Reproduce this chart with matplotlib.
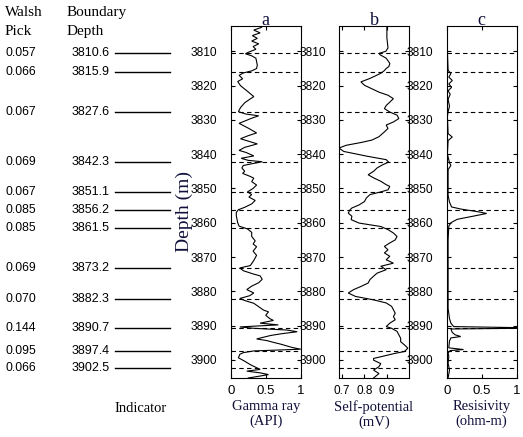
import matplotlib
matplotlib.use("Agg")
import matplotlib.pyplot as plt
import numpy as np

# ---------------- data ----------------
boundary_depths = [3810.6, 3815.9, 3827.6, 3842.3, 3851.1, 3856.2, 3861.5,
                   3873.2, 3882.3, 3890.7, 3897.4, 3902.5]
walsh_picks = ["0.057", "0.066", "0.067", "0.069", "0.067", "0.085", "0.085",
               "0.069", "0.070", "0.144", "0.095", "0.066"]
boundary_labels = ["3810.6", "3815.9", "3827.6", "3842.3", "3851.1", "3856.2",
                   "3861.5", "3873.2", "3882.3", "3890.7", "3897.4", "3902.5"]

gr_depth = [3803.0, 3803.8, 3804.6, 3805.4, 3806.2, 3807.0, 3807.8, 3808.6, 3809.4, 3810.2,
            3810.7, 3811.3, 3812.0, 3813.0, 3814.0, 3815.0, 3815.7, 3816.3, 3817.0, 3818.0,
            3818.8, 3820.0, 3821.0, 3822.0, 3823.2, 3824.0, 3825.0, 3826.4, 3827.6, 3828.3,
            3828.8, 3829.5, 3831.0, 3832.5, 3833.8, 3834.6, 3835.5, 3836.5, 3837.0, 3838.0,
            3838.9, 3839.5, 3840.5, 3841.2, 3841.8, 3842.2, 3842.8, 3843.3, 3844.0, 3845.0,
            3845.6, 3846.5, 3847.0, 3848.0, 3849.0, 3850.0, 3851.0, 3851.8, 3852.5, 3853.5,
            3854.5, 3855.5, 3856.2, 3857.0, 3858.0, 3859.0, 3860.0, 3861.0, 3861.8, 3862.8,
            3864.0, 3865.3, 3866.2, 3867.0, 3868.3, 3869.5, 3871.0, 3872.5, 3873.2, 3874.0,
            3875.0, 3875.5, 3876.5, 3877.5, 3878.5, 3879.5, 3880.5, 3881.3, 3882.1, 3882.7,
            3883.5, 3884.5, 3885.5, 3886.0, 3887.0, 3888.0, 3888.5, 3889.3, 3889.8, 3890.4,
            3890.8, 3891.3, 3891.8, 3892.4, 3892.9, 3893.4, 3893.9, 3894.4, 3894.9, 3895.4,
            3896.4, 3896.9, 3897.4, 3897.9, 3898.4, 3899.4, 3900.4, 3901.4, 3902.3, 3902.8,
            3903.3, 3903.8, 3904.3, 3904.8, 3905.3]
gr_value = [0.44, 0.33, 0.42, 0.31, 0.38, 0.30, 0.40, 0.32, 0.36, 0.26,
            0.21, 0.30, 0.36, 0.37, 0.38, 0.37, 0.30, 0.18, 0.12, 0.17,
            0.10, 0.14, 0.20, 0.26, 0.33, 0.27, 0.20, 0.14, 0.11, 0.22,
            0.40, 0.30, 0.12, 0.26, 0.37, 0.25, 0.14, 0.30, 0.38, 0.20,
            0.12, 0.22, 0.33, 0.15, 0.25, 0.45, 0.30, 0.18, 0.16, 0.20,
            0.17, 0.28, 0.33, 0.30, 0.37, 0.32, 0.24, 0.30, 0.26, 0.35,
            0.30, 0.20, 0.11, 0.08, 0.08, 0.09, 0.10, 0.12, 0.24, 0.30,
            0.30, 0.35, 0.32, 0.37, 0.32, 0.37, 0.33, 0.28, 0.13, 0.18,
            0.33, 0.42, 0.45, 0.40, 0.30, 0.23, 0.33, 0.27, 0.13, 0.20,
            0.33, 0.40, 0.47, 0.54, 0.50, 0.56, 0.61, 0.42, 0.68, 0.13,
            0.33, 0.80, 0.95, 0.72, 0.57, 0.47, 0.37, 0.52, 0.61, 0.71,
            0.88, 1.00, 0.33, 0.18, 0.13, 0.11, 0.20, 0.28, 0.37, 0.42,
            0.23, 0.42, 0.54, 0.40, 0.25]

sp_depth = [3803.0, 3806.0, 3809.0, 3810.0, 3810.6, 3811.0, 3812.0, 3813.5, 3814.4, 3815.0,
            3815.6, 3816.4, 3817.9, 3818.9, 3819.9, 3820.9, 3821.9, 3822.8, 3823.8, 3824.8,
            3825.8, 3826.7, 3827.7, 3828.6, 3829.6, 3830.6, 3831.5, 3832.5, 3833.5, 3834.9,
            3835.9, 3836.6, 3837.4, 3838.2, 3839.2, 3840.6, 3841.6, 3842.3, 3843.1, 3844.0,
            3845.0, 3846.0, 3846.9, 3847.9, 3848.9, 3849.4, 3850.4, 3851.0, 3851.8, 3852.8,
            3853.8, 3854.8, 3855.7, 3856.2, 3857.2, 3858.1, 3859.1, 3860.1, 3861.1, 3862.0,
            3863.0, 3864.0, 3865.0, 3865.9, 3866.9, 3867.9, 3868.8, 3869.8, 3870.8, 3871.8,
            3872.7, 3873.7, 3874.7, 3875.6, 3876.6, 3877.6, 3878.6, 3879.5, 3880.5, 3881.5,
            3882.5, 3883.4, 3884.4, 3885.4, 3886.4, 3887.4, 3888.3, 3889.3, 3890.3, 3890.8,
            3891.7, 3892.7, 3893.7, 3894.7, 3895.6, 3896.6, 3897.6, 3898.1, 3898.6, 3899.1,
            3899.6, 3900.1, 3901.1, 3902.0, 3903.0, 3904.0, 3905.3]
sp_value = [0.900, 0.900, 0.905, 0.895, 0.865, 0.870, 0.897, 0.913, 0.909, 0.897,
            0.889, 0.873, 0.825, 0.785, 0.801, 0.833, 0.865, 0.905, 0.929, 0.913,
            0.897, 0.889, 0.913, 0.945, 0.953, 0.929, 0.897, 0.905, 0.889, 0.865,
            0.833, 0.785, 0.720, 0.688, 0.709, 0.813, 0.897, 0.908, 0.881, 0.857,
            0.841, 0.817, 0.841, 0.873, 0.897, 0.913, 0.905, 0.873, 0.825, 0.809,
            0.801, 0.777, 0.745, 0.737, 0.729, 0.745, 0.742, 0.777, 0.873, 0.905,
            0.929, 0.945, 0.937, 0.913, 0.889, 0.905, 0.889, 0.913, 0.897, 0.929,
            0.873, 0.897, 0.857, 0.841, 0.825, 0.817, 0.785, 0.753, 0.729, 0.761,
            0.841, 0.897, 0.921, 0.929, 0.937, 0.929, 0.937, 0.913, 0.897, 0.921,
            0.945, 0.953, 0.961, 0.961, 0.977, 0.993, 0.977, 0.937, 0.905, 0.873,
            0.841, 0.841, 0.873, 0.865, 0.841, 0.865, 0.841]

res_depth = [3803.0, 3810.0, 3815.5, 3816.5, 3817.5, 3818.5, 3819.5, 3820.5, 3821.5, 3822.5,
             3824.0, 3826.0, 3827.6, 3829.0, 3834.0, 3835.0, 3836.0, 3840.0, 3842.5, 3843.3,
             3844.5, 3852.0, 3854.0, 3855.4, 3856.0, 3856.8, 3857.3, 3858.0, 3859.0, 3860.0,
             3861.0, 3865.0, 3870.0, 3875.0, 3880.0, 3885.0, 3888.0, 3889.3, 3890.3, 3890.6,
             3890.8, 3891.0, 3892.0, 3892.7, 3893.2, 3893.6, 3894.5, 3896.5, 3897.0, 3897.3,
             3898.0, 3899.0, 3901.0, 3903.0, 3905.3]
res_value = [0.01, 0.01, 0.02, 0.06, 0.03, 0.08, 0.03, 0.07, 0.02, 0.05,
             0.02, 0.04, 0.02, 0.01, 0.02, 0.08, 0.02, 0.01, 0.04, 0.06,
             0.02, 0.02, 0.04, 0.07, 0.20, 0.45, 0.57, 0.40, 0.15, 0.06,
             0.03, 0.02, 0.02, 0.02, 0.02, 0.02, 0.04, 0.06, 0.10, 1.00,
             1.00, 0.06, 0.08, 0.12, 0.20, 0.06, 0.04, 0.03, 0.24, 0.05,
             0.02, 0.03, 0.02, 0.04, 0.02]

panel_titles = ["a", "b", "c"]
panel_xlabels = ["Gamma ray\n(API)", "Self-potential\n(mV)", "Resisivity\n(ohm-m)"]
ytick_values = [3810, 3820, 3830, 3840, 3850, 3860, 3870, 3880, 3890, 3900]

# ---------------- layout ----------------
W, H = 523, 437
fig = plt.figure(figsize=(W / 100, H / 100), dpi=100)

serif = ["Liberation Serif", "DejaVu Serif"]
sans = ["Liberation Sans", "DejaVu Sans"]
navy = "#10103a"

ylim = (3905.3, 3802.6)
y_bot_px, y_top_px = 378, 26
ax_b = 1 - y_bot_px / H
ax_h = (y_bot_px - y_top_px) / H

panel_left_px = [230.7, 339.0, 446.7]
panel_w_px = 70.0
xlims = [(0, 1), (0.688, 0.998), (0, 1)]
xticks = [[0, 0.5, 1], [0.7, 0.8, 0.9], [0, 0.5, 1]]
xticklabels = [["0", "0.5", "1"], ["0.7", "0.8", "0.9"], ["0", "0.5", "1"]]
xtick_sizes = [9.5, 8.5, 9.5]
series = [(gr_value, gr_depth), (sp_value, sp_depth), (res_value, res_depth)]

for i in range(3):
    ax = fig.add_axes([panel_left_px[i] / W, ax_b, panel_w_px / W, ax_h])
    xv, dv = series[i]
    ax.plot(xv, dv, color="black", linewidth=0.8, solid_joinstyle="miter")
    for d in boundary_depths:
        ax.axhline(d, color="black", linewidth=0.8, linestyle=(0, (4, 3)))
    ax.set_ylim(*ylim)
    ax.set_xlim(*xlims[i])
    ax.set_yticks(ytick_values)
    ax.set_yticklabels([str(v) for v in ytick_values], family=sans, fontsize=8.6)
    ax.set_xticks(xticks[i])
    ax.set_xticklabels(xticklabels[i], family=sans, fontsize=xtick_sizes[i])
    ax.tick_params(axis="both", direction="in", length=3, width=0.8,
                   top=True, right=True)
    ax.tick_params(axis="y", pad=9.5)
    ax.tick_params(axis="x", pad=5)
    for s in ax.spines.values():
        s.set_linewidth(0.8)
    ax.set_title(panel_titles[i], family=serif, fontsize=13, color=navy, pad=1)
    ax.set_xlabel(panel_xlabels[i], family=serif, fontsize=10.5, color=navy,
                  labelpad=2, linespacing=1.15)
    if i == 0:
        ax.set_ylabel("Depth (m)", family=serif, fontsize=14, color=navy)
        ax.yaxis.set_label_coords((184 - panel_left_px[0]) / panel_w_px,
                                  (y_bot_px - 211) / (y_bot_px - y_top_px))
        ax.yaxis.label.set_verticalalignment("center")

# left indicator area
axl = fig.add_axes([0, ax_b, 220 / W, ax_h])
axl.set_xlim(0, 220)
axl.set_ylim(*ylim)
axl.axis("off")
for d, wp, bl in zip(boundary_depths, walsh_picks, boundary_labels):
    axl.text(5, d, wp, family=sans, fontsize=8.8, va="center", ha="left")
    axl.text(72, d, bl, family=sans, fontsize=9, va="center", ha="left")
    axl.plot([115, 170], [d, d], color="black", linewidth=1.0)

for x_px, words in [(5, ("Walsh", "Pick")), (67, ("Boundary", "Depth"))]:
    fig.text(x_px / W, 1 - 12.5 / H, words[0], family=serif, fontsize=11,
             va="center", ha="left")
    fig.text(x_px / W, 1 - 31.5 / H, words[1], family=serif, fontsize=11,
             va="center", ha="left")
fig.text(141 / W, 1 - 408 / H, "Indicator", family=serif, fontsize=10.5,
         va="center", ha="center")

fig.savefig("out.png", dpi=100)
